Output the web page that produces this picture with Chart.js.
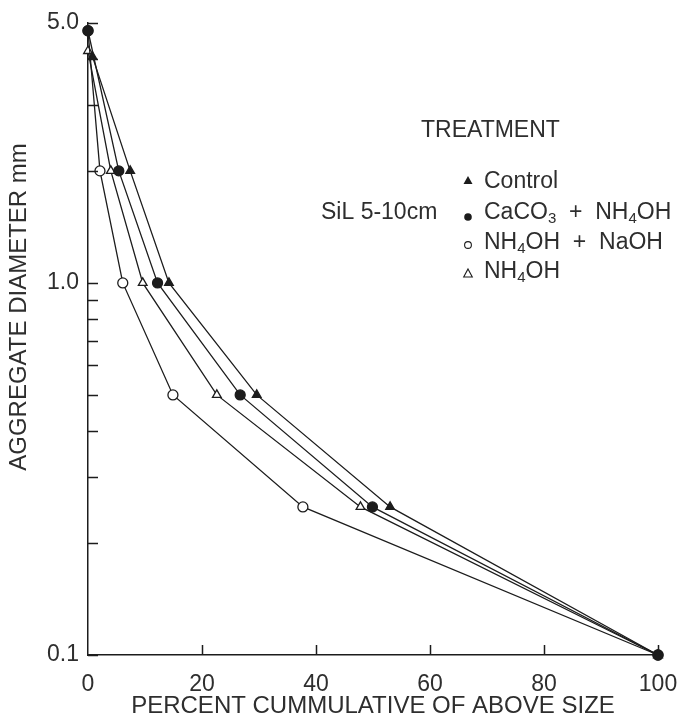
<!DOCTYPE html>
<html>
<head>
<meta charset="utf-8">
<script src="https://cdn.jsdelivr.net/npm/chart.js@4.4.1/dist/chart.umd.min.js"></script>
<style>
  html, body { margin: 0; padding: 0; background: #fff; }
  #wrap { width: 680px; height: 722px; }
</style>
</head>
<body>
<div id="wrap"><canvas id="sieveChart" width="680" height="722"></canvas></div>
<script>
// percent cumulative of above size, per treatment
const pctControl = [0.8, 7.4, 14.2, 29.6, 53.0, 100];
const pctCaCO3   = [0, 5.4, 12.2, 26.7, 49.9, 100];
const pctNaOH    = [0, 2.1, 6.1, 14.9, 37.7, 100];
const pctNH4OH   = [0, 4.0, 9.6, 22.6, 47.8, 100];

// aggregate diameter (mm) for those points
const diamControl = [4.05, 2.0, 1.0, 0.5, 0.25, 0.1];
const diamCaCO3   = [4.76, 2.0, 1.0, 0.5, 0.25, 0.1];
const diamNaOH    = [4.76, 2.0, 1.0, 0.5, 0.25, 0.1];
const diamNH4OH   = [4.2, 2.0, 1.0, 0.5, 0.25, 0.1];

const yTickValues = [0.1, 0.2, 0.3, 0.4, 0.5, 0.6, 0.7, 0.8, 0.9, 1, 2, 3, 4, 5];
const yTickLabels = [0.1, 1, 5];
const xTickValues = [0, 20, 40, 60, 80, 100];

const INK = "#1c1c1c";
const TEXT = "#2e2e2e";
const FONT = '"Liberation Sans", Arial, sans-serif';

function toPoints(xs, ys) {
    return xs.map((x, i) => ({ x: x, y: ys[i] }));
}

function series(data, style, fill) {
    return {
        data: data,
        borderColor: INK,
        borderWidth: 1.3,
        pointStyle: style,
        pointRadius: 5,
        pointBorderWidth: 1.3,
        pointBorderColor: INK,
        pointBackgroundColor: fill,
        tension: 0,
        clip: false
    };
}

// draws text with chemical subscripts, parts = [[text, isSub], ...]
function drawRich(ctx, x, y, parts) {
    parts.forEach(([txt, sub]) => {
        ctx.font = sub ? "15px " + FONT : "23px " + FONT;
        ctx.fillText(txt, x, sub ? y + 6 : y);
        x += ctx.measureText(txt).width;
    });
}

const decorPlugin = {
    id: "decor",
    afterDraw(chart) {
        const ctx = chart.ctx;
        const area = chart.chartArea;
        const xs = chart.scales.x;
        const ys = chart.scales.y;
        ctx.save();

        // inward tick marks
        ctx.strokeStyle = INK;
        ctx.lineWidth = 1.5;
        ctx.beginPath();
        yTickValues.forEach(v => {
            const py = Math.round(ys.getPixelForValue(v)) + 0.5;
            ctx.moveTo(area.left, py);
            ctx.lineTo(area.left + 10, py);
        });
        xTickValues.slice(1).forEach(v => {
            const px = Math.round(xs.getPixelForValue(v)) + 0.5;
            ctx.moveTo(px, area.bottom);
            ctx.lineTo(px, area.bottom - 10);
        });
        ctx.stroke();

        // y axis title
        ctx.fillStyle = TEXT;
        ctx.font = "24px " + FONT;
        ctx.textAlign = "center";
        ctx.textBaseline = "middle";
        ctx.translate(19, 307);
        ctx.rotate(-Math.PI / 2);
        ctx.fillText("AGGREGATE DIAMETER mm", 0, 0);
        ctx.restore();

        // legend block
        ctx.save();
        ctx.fillStyle = TEXT;
        ctx.textAlign = "left";
        ctx.textBaseline = "middle";
        ctx.font = "23px " + FONT;
        ctx.fillText("TREATMENT", 421, 131);
        ctx.fillText("SiL 5-10cm", 321, 213);
        drawRich(ctx, 484, 182, [["Control", false]]);
        drawRich(ctx, 484, 213, [["CaCO", false], ["3", true], ["  +  NH", false], ["4", true], ["OH", false]]);
        drawRich(ctx, 484, 243, [["NH", false], ["4", true], ["OH  +  NaOH", false]]);
        drawRich(ctx, 484, 272, [["NH", false], ["4", true], ["OH", false]]);

        // legend markers
        ctx.fillStyle = INK;
        ctx.strokeStyle = INK;
        ctx.lineWidth = 1.1;
        const mx = 468;
        ctx.beginPath();
        ctx.moveTo(mx, 176); ctx.lineTo(mx + 4.5, 184); ctx.lineTo(mx - 4.5, 184); ctx.closePath();
        ctx.fill();
        ctx.beginPath();
        ctx.arc(mx, 217, 3.8, 0, Math.PI * 2);
        ctx.fill();
        ctx.beginPath();
        ctx.arc(mx, 245, 3.4, 0, Math.PI * 2);
        ctx.stroke();
        ctx.beginPath();
        ctx.moveTo(mx, 269); ctx.lineTo(mx + 4.3, 277); ctx.lineTo(mx - 4.3, 277); ctx.closePath();
        ctx.stroke();
        ctx.restore();
    }
};

const ctx = document.getElementById("sieveChart").getContext("2d");

new Chart(ctx, {
    type: "line",
    data: {
        datasets: [
            series(toPoints(pctControl, diamControl), "triangle", INK),
            series(toPoints(pctCaCO3, diamCaCO3), "circle", INK),
            series(toPoints(pctNaOH, diamNaOH), "circle", "#ffffff"),
            series(toPoints(pctNH4OH, diamNH4OH), "triangle", "#ffffff")
        ]
    },
    options: {
        responsive: false,
        animation: false,
        devicePixelRatio: 1,
        layout: { padding: { left: 0, right: 22, top: 20, bottom: 0 } },
        plugins: {
            legend: { display: false },
            tooltip: { enabled: false }
        },
        scales: {
            x: {
                type: "linear",
                min: 0,
                max: 100,
                afterBuildTicks: scale => {
                    scale.ticks = xTickValues.map(v => ({ value: v }));
                },
                afterFit: scale => {
                    scale.height = 67;
                    scale.paddingLeft = 0;
                    scale.paddingRight = 0;
                },
                grid: { display: false, drawTicks: false },
                border: { display: true, color: INK, width: 1.5 },
                ticks: {
                    color: TEXT,
                    padding: 16,
                    font: { family: FONT, size: 23 },
                    maxRotation: 0
                },
                title: {
                    display: true,
                    text: "PERCENT CUMMULATIVE OF ABOVE SIZE",
                    color: TEXT,
                    font: { family: FONT, size: 24 },
                    padding: { top: 0, bottom: 1 }
                }
            },
            y: {
                type: "logarithmic",
                min: 0.1,
                max: 5,
                afterBuildTicks: scale => {
                    scale.ticks = yTickValues.map(v => ({ value: v }));
                },
                afterFit: scale => { scale.width = 88; },
                grid: { display: false, drawTicks: false },
                border: { display: true, color: INK, width: 1.5 },
                ticks: {
                    color: TEXT,
                    padding: 9,
                    autoSkip: false,
                    font: { family: FONT, size: 23 },
                    callback: function (value) {
                        return yTickLabels.includes(value) ? value.toFixed(1) : "";
                    }
                }
            }
        }
    },
    plugins: [decorPlugin]
});
</script>
</body>
</html>
